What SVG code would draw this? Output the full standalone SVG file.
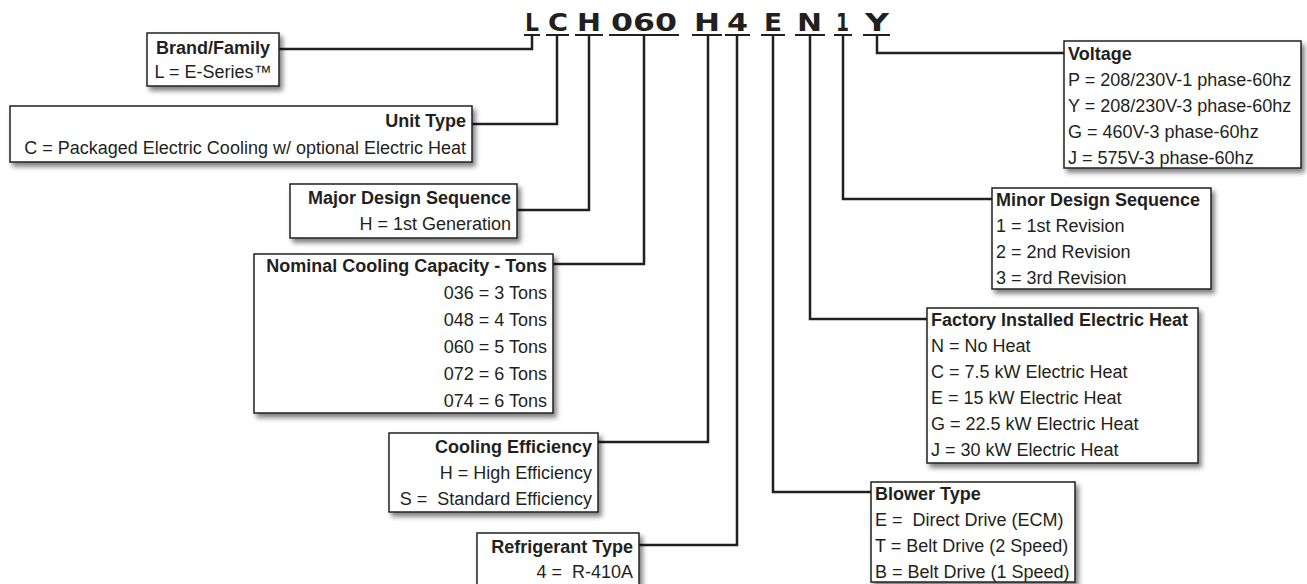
<svg xmlns="http://www.w3.org/2000/svg" width="1307" height="584" viewBox="0 0 1307 584">
<defs>
<filter id="sh" x="-10%" y="-10%" width="130%" height="140%">
<feDropShadow dx="3" dy="4" stdDeviation="2.5" flood-color="#000" flood-opacity="0.5"/>
</filter>
<style>
.box{fill:#fff;stroke:#231f20;stroke-width:1.5;filter:url(#sh)}
.t{font-family:"Liberation Sans",Arial,sans-serif;font-size:18px;fill:#231f20;white-space:pre}
.b{font-weight:bold}
.e{text-anchor:end}
.m{text-anchor:middle}
.code{font-family:"DejaVu Sans",sans-serif;font-weight:bold;font-size:25px;fill:#231f20}
.ln{fill:none;stroke:#231f20;stroke-width:2.5}
.ul{stroke:#231f20;stroke-width:2}
</style>
</defs>
<rect width="1307" height="584" fill="#fff"/>

<g id="code">
<text class="code" x="525" y="31" textLength="14" lengthAdjust="spacingAndGlyphs">L</text>
<text class="code" x="548" y="31" textLength="20" lengthAdjust="spacingAndGlyphs">C</text>
<text class="code" x="577" y="31" textLength="24" lengthAdjust="spacingAndGlyphs">H</text>
<text class="code" x="611" y="31" textLength="66" lengthAdjust="spacingAndGlyphs">060</text>
<text class="code" x="694" y="31" textLength="26" lengthAdjust="spacingAndGlyphs">H</text>
<text class="code" x="727" y="31" textLength="21" lengthAdjust="spacingAndGlyphs">4</text>
<text class="code" x="764" y="31" textLength="18" lengthAdjust="spacingAndGlyphs">E</text>
<text class="code" x="797" y="31" textLength="25" lengthAdjust="spacingAndGlyphs">N</text>
<text class="code" x="836" y="31" textLength="13" lengthAdjust="spacingAndGlyphs">1</text>
<text class="code" x="865" y="31" textLength="24" lengthAdjust="spacingAndGlyphs">Y</text>
<g class="ul">
<line x1="524" y1="35" x2="540" y2="35"/>
<line x1="546" y1="35" x2="569" y2="35"/>
<line x1="575" y1="35" x2="603" y2="35"/>
<line x1="609" y1="35" x2="679" y2="35"/>
<line x1="692" y1="35" x2="722" y2="35"/>
<line x1="725" y1="35" x2="750" y2="35"/>
<line x1="761" y1="35" x2="785" y2="35"/>
<line x1="795" y1="35" x2="825" y2="35"/>
<line x1="834" y1="35" x2="852" y2="35"/>
<line x1="863" y1="35" x2="890" y2="35"/>
</g>
</g>

<g id="connectors" class="ln">
<path d="M532,35 V49 H279"/>
<path d="M557,35 V124 H472"/>
<path d="M589,35 V210 H517"/>
<path d="M644,35 V264 H553"/>
<path d="M708,35 V442 H598"/>
<path d="M737,35 V545 H639"/>
<path d="M773,35 V492 H871"/>
<path d="M810,35 V319 H927"/>
<path d="M843,35 V199 H992"/>
<path d="M877,35 V53 H1064"/>
</g>

<g id="brand">
<rect class="box" x="147" y="33" width="132" height="53"/>
<text class="t b m" x="213" y="54">Brand/Family</text>
<text class="t m" x="213" y="78">L = E-Series™</text>
</g>

<g id="unit-type">
<rect class="box" x="10" y="106" width="462" height="56"/>
<text class="t b e" x="466" y="127">Unit Type</text>
<text class="t e" x="466" y="154">C = Packaged Electric Cooling w/ optional Electric Heat</text>
</g>

<g id="major">
<rect class="box" x="290" y="184" width="227" height="54"/>
<text class="t b e" x="511" y="204">Major Design Sequence</text>
<text class="t e" x="511" y="230">H = 1st Generation</text>
</g>

<g id="nominal">
<rect class="box" x="254" y="254" width="299" height="159"/>
<text class="t b e" x="547" y="272">Nominal Cooling Capacity - Tons</text>
<text class="t e" x="547" y="299">036 = 3 Tons</text>
<text class="t e" x="547" y="326">048 = 4 Tons</text>
<text class="t e" x="547" y="353">060 = 5 Tons</text>
<text class="t e" x="547" y="380">072 = 6 Tons</text>
<text class="t e" x="547" y="407">074 = 6 Tons</text>
</g>

<g id="efficiency">
<rect class="box" x="389" y="433" width="209" height="79"/>
<text class="t b e" x="592" y="453">Cooling Efficiency</text>
<text class="t e" x="592" y="479">H = High Efficiency</text>
<text class="t e" x="592" y="505">S =  Standard Efficiency</text>
</g>

<g id="refrigerant">
<rect class="box" x="477" y="533" width="162" height="58"/>
<text class="t b e" x="633" y="553">Refrigerant Type</text>
<text class="t e" x="633" y="578">4 =  R-410A</text>
</g>

<g id="voltage">
<rect class="box" x="1064" y="41" width="237" height="127"/>
<text class="t b" x="1068" y="60">Voltage</text>
<text class="t" x="1068" y="86">P = 208/230V-1 phase-60hz</text>
<text class="t" x="1068" y="112">Y = 208/230V-3 phase-60hz</text>
<text class="t" x="1068" y="138">G = 460V-3 phase-60hz</text>
<text class="t" x="1068" y="164">J = 575V-3 phase-60hz</text>
</g>

<g id="minor">
<rect class="box" x="992" y="188" width="219" height="101"/>
<text class="t b" x="996" y="206">Minor Design Sequence</text>
<text class="t" x="996" y="232">1 = 1st Revision</text>
<text class="t" x="996" y="258">2 = 2nd Revision</text>
<text class="t" x="996" y="284">3 = 3rd Revision</text>
</g>

<g id="heat">
<rect class="box" x="927" y="308" width="271" height="155"/>
<text class="t b" x="931" y="326">Factory Installed Electric Heat</text>
<text class="t" x="931" y="352">N = No Heat</text>
<text class="t" x="931" y="378">C = 7.5 kW Electric Heat</text>
<text class="t" x="931" y="404">E = 15 kW Electric Heat</text>
<text class="t" x="931" y="430">G = 22.5 kW Electric Heat</text>
<text class="t" x="931" y="456">J = 30 kW Electric Heat</text>
</g>

<g id="blower">
<rect class="box" x="871" y="482" width="204" height="100"/>
<text class="t b" x="875" y="500">Blower Type</text>
<text class="t" x="875" y="526">E =  Direct Drive (ECM)</text>
<text class="t" x="875" y="552">T = Belt Drive (2 Speed)</text>
<text class="t" x="875" y="578">B = Belt Drive (1 Speed)</text>
</g>
</svg>
